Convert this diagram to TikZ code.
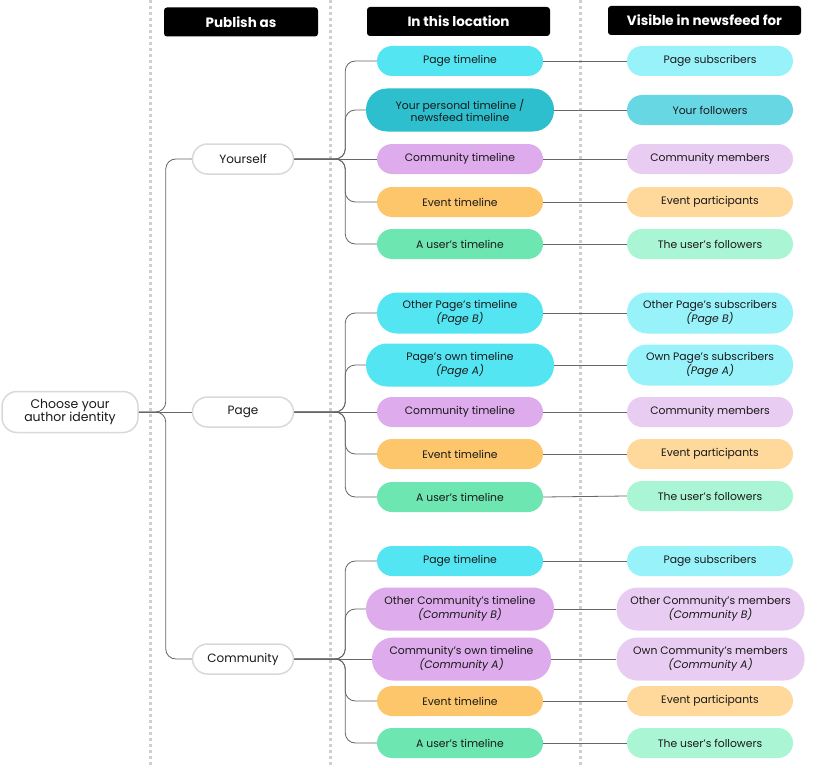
\documentclass[tikz,border=0pt]{standalone}
\usepackage{fontspec}
\setmainfont{Poppins}
\definecolor{cyanbox}{HTML}{54E5F3}
\definecolor{tealbox}{HTML}{2EBFCE}
\definecolor{lilacbox}{HTML}{DEABEC}
\definecolor{orangebox}{HTML}{FDC66B}
\definecolor{greenbox}{HTML}{6EE6B1}
\definecolor{cyanlight}{HTML}{98F2FA}
\definecolor{teallight}{HTML}{68D7E4}
\definecolor{lilaclight}{HTML}{E9CCF2}
\definecolor{orangelight}{HTML}{FED99B}
\definecolor{greenlight}{HTML}{AAF6D4}
\definecolor{inkgray}{HTML}{666666}
\definecolor{sepgray}{HTML}{CFCFCF}
\begin{document}
\begin{tikzpicture}[x=1pt, y=-1pt,
  every node/.style={font=\fontsize{10.8}{12}\selectfont, text=black!90, align=center, inner sep=0pt},
  header/.style={fill=black, rounded corners=3pt, minimum height=29pt, text=white, font=\fontsize{13.5}{14}\selectfont\bfseries},
  choice/.style={draw=black!15, line width=1.5pt, fill=white, rounded corners=15pt, minimum width=101pt, minimum height=30pt, font=\fontsize{12}{13}\selectfont},
  pill/.style={fill=#1, rounded corners=15pt, minimum width=166pt, minimum height=30pt},
  tallpill/.style={fill=#1, rounded corners=21pt, minimum width=188pt, minimum height=43pt},
  branch/.style={draw=inkgray, line width=0.8pt, rounded corners=10pt},
  link/.style={draw=inkgray, line width=0.8pt}]
\useasboundingbox (0,0) rectangle (820,768);

% column separators
\foreach \x in {150,330,580}
  \draw[sepgray, line width=3pt, dash pattern=on 3pt off 3pt] (\x,0) -- (\x,768);

% headers
\node[header, minimum width=154pt] (h1) at (241,22) {Publish as};
\node[header, minimum width=183pt] (h2) at (458.5,21.5) {In this location};
\node[header, minimum width=193pt] (h3) at (704.5,20.5) {Visible in newsfeed for};

% author identity
\node[choice, minimum width=136pt, minimum height=41pt, font=\fontsize{12.5}{13}\selectfont] (root) at (70,412) {Choose your\\author identity};
\node[choice] (you) at (243,159) {Yourself};
\node[choice] (page) at (243,412) {Page};
\node[choice] (comm) at (243,659) {Community};

% in this location: yourself
\node[pill=cyanbox] (y1) at (460,61) {Page timeline};
\node[tallpill=tealbox] (y2) at (460,110) {Your personal timeline /\\newsfeed timeline};
\node[pill=lilacbox] (y3) at (460,159) {Community timeline};
\node[pill=orangebox] (y4) at (460,202) {Event timeline};
\node[pill=greenbox] (y5) at (460,244) {A user’s timeline};

% in this location: page
\node[pill=cyanbox, minimum height=41pt, rounded corners=20pt] (p1) at (460,313) {Other Page’s timeline\\\textit{(Page B)}};
\node[tallpill=cyanbox] (p2) at (460,365) {Page’s own timeline\\\textit{(Page A)}};
\node[pill=lilacbox] (p3) at (460,412) {Community timeline};
\node[pill=orangebox] (p4) at (460,454) {Event timeline};
\node[pill=greenbox] (p5) at (460,497) {A user’s timeline};

% in this location: community
\node[pill=cyanbox] (c1) at (460,561) {Page timeline};
\node[tallpill=lilacbox] (c2) at (460,609) {Other Community’s timeline\\\textit{(Community B)}};
\node[tallpill=lilacbox, minimum width=179pt] (c3) at (461.5,659) {Community’s own timeline\\\textit{(Community A)}};
\node[pill=orangebox] (c4) at (460,701) {Event timeline};
\node[pill=greenbox] (c5) at (460,743) {A user’s timeline};

% visible in newsfeed for
\node[pill=cyanlight] (yv1) at (710,61) {Page subscribers};
\node[pill=teallight] (yv2) at (710,110) {Your followers};
\node[pill=lilaclight] (yv3) at (710,159) {Community members};
\node[pill=orangelight] (yv4) at (710,202) {Event participants};
\node[pill=greenlight] (yv5) at (710,244) {The user’s followers};

\node[pill=cyanlight, minimum height=41pt, rounded corners=20pt] (pv1) at (710,313) {Other Page’s subscribers\\\textit{(Page B)}};
\node[pill=cyanlight, minimum height=41pt, rounded corners=20pt] (pv2) at (710,365) {Own Page’s subscribers\\\textit{(Page A)}};
\node[pill=lilaclight] (pv3) at (710,412) {Community members};
\node[pill=orangelight] (pv4) at (710,454) {Event participants};
\node[pill=greenlight] (pv5) at (710,496) {The user’s followers};

\node[pill=cyanlight] (cv1) at (710,561) {Page subscribers};
\node[tallpill=lilaclight] (cv2) at (710.5,609) {Other Community’s members\\\textit{(Community B)}};
\node[tallpill=lilaclight] (cv3) at (710.5,659) {Own Community’s members\\\textit{(Community A)}};
\node[pill=orangelight] (cv4) at (710,701) {Event participants};
\node[pill=greenlight] (cv5) at (710,743) {The user’s followers};

% connectors
\draw[link] (root.east) -- (page.west);
\foreach \n in {you,comm}
  \draw[branch] (root.east) -- ++(27,0) |- (\n.west);

\foreach \g/\p in {y/you,p/page,c/comm} {
  \draw[link] (\p.east) -- (\g3.west);
  \foreach \i in {1,2,4,5}
    \draw[branch] (\p.east) -- ++(51,0) |- (\g\i.west);
  \foreach \i in {1,...,5}
    \draw[link] (\g\i.east) -- (\g v\i.west);
}
\end{tikzpicture}
\end{document}
